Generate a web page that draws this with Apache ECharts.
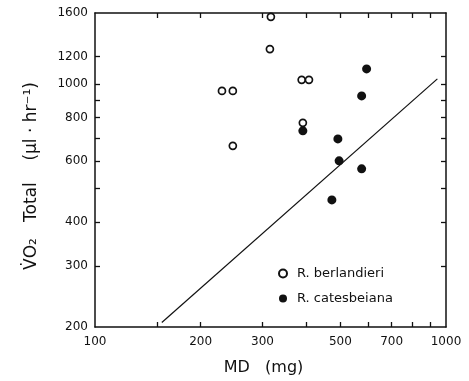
<!DOCTYPE html>
<html>
<head>
<meta charset="utf-8">
<script src="https://cdn.jsdelivr.net/npm/echarts@6/dist/echarts.min.js"></script>
<style>
  html, body { margin: 0; padding: 0; background: #fff; }
  #main { width: 469px; height: 381px; }
</style>
</head>
<body>
<div id="main"></div>
<script>
// R. berlandieri (open circles): [MD mg, VO2 ul/hr]
var berlandieri = [[230, 955], [247, 955], [247, 664], [317, 1560], [315, 1260],
  [388, 1028], [407, 1028], [391, 773]];
// R. catesbeiana (filled circles)
var catesbeiana = [[594, 1105], [575, 924], [492, 695], [496, 601], [575, 570],
  [473, 464], [391, 733]];
// regression line end points
var fitLine = [[155, 206], [945, 1034]];

var xTicks = [150, 200, 300, 400, 500, 600, 700, 800, 900];
var xLabels = [100, 200, 300, 500, 700, 1000];
var yTicks = [300, 400, 500, 600, 700, 800, 900, 1000, 1200];
var yLabels = [200, 300, 400, 600, 800, 1000, 1200, 1600];

var ink = '#111';
var font = 'DejaVu Sans';

var myChart = echarts.init(document.getElementById('main'));

function xAxisBase(pos) {
  return {
    type: 'log', logBase: 10, min: 100, max: 1000, position: pos,
    splitLine: { show: false },
    axisLine: { show: true, lineStyle: { color: ink, width: 1.5 } },
    axisTick: { show: true, inside: true, length: 5, lineStyle: { color: ink, width: 1.3 }, customValues: xTicks },
    minorTick: { show: false }
  };
}
function yAxisBase(pos) {
  return {
    type: 'log', logBase: 10, min: 200, max: 1600, position: pos,
    splitLine: { show: false },
    axisLine: { show: true, lineStyle: { color: ink, width: 1.5 } },
    axisTick: { show: true, inside: true, length: 5, lineStyle: { color: ink, width: 1.3 }, customValues: yTicks },
    minorTick: { show: false }
  };
}
function plain(v) { return String(Math.round(v)); }

var xBottom = xAxisBase('bottom');
xBottom.axisLabel = { show: true, customValues: xLabels, formatter: plain, color: ink, fontFamily: font, fontSize: 12, margin: 9 };
xBottom.name = 'MD   (mg)';
xBottom.nameLocation = 'middle';
xBottom.nameGap = 33;
xBottom.nameTextStyle = { color: ink, fontFamily: font, fontSize: 16, padding: [0, 14, 0, 0] };
var xTop = xAxisBase('top');
xTop.axisLabel = { show: false };

var yLeft = yAxisBase('left');
yLeft.axisLabel = { show: true, customValues: yLabels, formatter: plain, color: ink, fontFamily: font, fontSize: 12, margin: 7 };
yLeft.name = 'V\u0307O\u2082   Total    (\u00b5l \u00b7 hr\u207b\u00b9)';
yLeft.nameLocation = 'middle';
yLeft.nameGap = 55;
yLeft.nameTextStyle = { color: ink, fontFamily: font, fontSize: 17, padding: [0, 12, 0, 0] };
var yRight = yAxisBase('right');
yRight.axisLabel = { show: false };

option = {
  animation: false,
  backgroundColor: '#fff',
  grid: { left: 95, right: 23, top: 13, bottom: 54 },
  xAxis: [xBottom, xTop],
  yAxis: [yLeft, yRight],
  legend: {
    data: ['R. berlandieri', 'R. catesbeiana'],
    orient: 'vertical', left: 273, top: 262,
    itemWidth: 8, itemHeight: 8, itemGap: 12,
    textStyle: { color: ink, fontFamily: font, fontSize: 13, padding: [0, 0, 0, 5] }
  },
  series: [
    {
      name: 'R. berlandieri', type: 'scatter', data: berlandieri,
      symbol: 'circle', symbolSize: 7,
      itemStyle: { color: '#fff', borderColor: ink, borderWidth: 1.7, opacity: 1 }
    },
    {
      name: 'R. catesbeiana', type: 'scatter', data: catesbeiana,
      symbol: 'circle', symbolSize: 9,
      itemStyle: { color: ink, opacity: 1 }
    },
    {
      name: 'fit', type: 'line', data: fitLine,
      symbol: 'none', lineStyle: { color: ink, width: 1.2 }, z: 1
    }
  ]
};

myChart.setOption(option);
</script>
</body>
</html>
